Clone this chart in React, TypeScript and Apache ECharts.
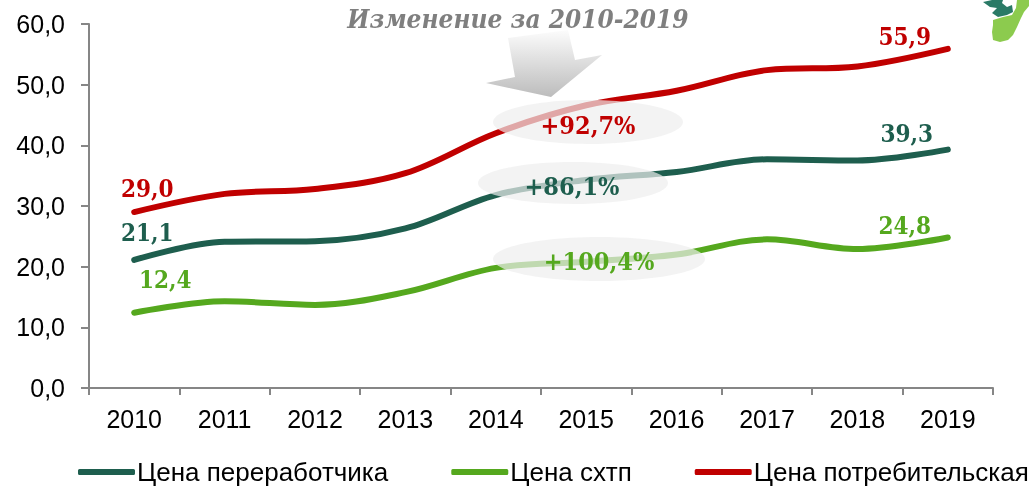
import React, { useEffect, useRef } from "react";
import * as echarts from "echarts";

const years = ["2010", "2011", "2012", "2013", "2014", "2015", "2016", "2017", "2018", "2019"];
const processorPrice = [21.1, 24.1, 24.2, 26.3, 31.8, 34.3, 35.6, 37.7, 37.5, 39.3];
const farmPrice = [12.4, 14.3, 13.7, 15.8, 19.8, 20.8, 22.0, 24.5, 22.9, 24.8];
const consumerPrice = [29.0, 32.0, 32.8, 35.4, 42.0, 46.6, 49.0, 52.4, 53.0, 55.9];
const seriesNames = ["Цена переработчика", "Цена схтп", "Цена потребительская"];
const changeLabels = ["+92,7%", "+86,1%", "+100,4%"];
const titleText = "Изменение за 2010-2019";

const DARK = "#1E5E4E";
const GREEN = "#55A81E";
const RED = "#C00000";
const SERIF = "'DejaVu Serif Condensed', 'DejaVu Serif'";

const fmt = (v: number) => v.toFixed(1).replace(".", ",");

function withEndLabels(values: number[], color: string, firstOff: number[], lastOff: number[]) {
  return values.map((v, i) => {
    if (i === 0 || i === values.length - 1) {
      return {
        value: v,
        label: {
          show: true,
          position: "inside",
          offset: i === 0 ? firstOff : lastOff,
          formatter: (p: any) => fmt(p.value),
          color,
          fontFamily: SERIF,
          fontWeight: "bold",
          fontSize: 24,
        },
      };
    }
    return { value: v };
  });
}

export default function App() {
  const ref = useRef<HTMLDivElement>(null);
  useEffect(() => {
    if (!ref.current) return;
    const chart = echarts.init(ref.current, undefined, { renderer: "svg" });
    const lineSeries = (name: string, data: any[], color: string) => ({
      name,
      type: "line",
      data,
      smooth: 0.35,
      symbol: "circle",
      symbolSize: 3,
      itemStyle: { color },
      lineStyle: { color, width: 6, cap: "round" },
      z: 2,
    });
    const pctStyle = (color: string) => ({
      fill: color,
      font: `bold 25px ${SERIF}`,
      textAlign: "center",
      textVerticalAlign: "middle",
    });
    chart.setOption({
      animation: false,
      grid: { left: 89, right: 36, top: 24, bottom: 99 },
      xAxis: {
        type: "category",
        data: years,
        boundaryGap: true,
        axisLine: { lineStyle: { color: "#868686", width: 2 } },
        axisTick: { show: true, length: 7, lineStyle: { color: "#868686", width: 2 } },
        axisLabel: { color: "#000", fontSize: 25, fontFamily: "Liberation Sans, Arial", margin: 18 },
      },
      yAxis: {
        type: "value",
        min: 0,
        max: 60,
        interval: 10,
        splitLine: { show: false },
        axisLine: { show: true, lineStyle: { color: "#868686", width: 2 } },
        axisTick: { show: true, length: 8, lineStyle: { color: "#868686", width: 2 } },
        axisLabel: {
          color: "#000",
          fontSize: 25,
          fontFamily: "Liberation Sans, Arial",
          margin: 24,
          formatter: (v: number) => fmt(v),
        },
      },
      legend: {
        left: 78,
        top: 459,
        width: 1400,
        padding: 0,
        icon: "roundRect",
        itemWidth: 57,
        itemHeight: 6,
        itemGap: 63,
        textStyle: { color: "#000", fontSize: 26, fontFamily: "Liberation Sans, Arial", padding: [0, 0, 0, -3] },
        data: seriesNames,
      },
      series: [
        lineSeries(seriesNames[0], withEndLabels(processorPrice, DARK, [13, -27], [-41, -16]), DARK),
        lineSeries(seriesNames[1], withEndLabels(farmPrice, GREEN, [31, -33], [-43, -12]), GREEN),
        lineSeries(seriesNames[2], withEndLabels(consumerPrice, RED, [13, -24], [-43, -12]), RED),
      ],
      graphic: [
        {
          type: "text",
          x: 518,
          y: 19,
          z: 100,
          style: {
            text: titleText,
            fill: "#7F7F7F",
            font: `italic bold 26px ${SERIF}`,
            textAlign: "center",
            textVerticalAlign: "middle",
          },
        },
        {
          type: "polygon",
          z: 100,
          shape: {
            points: [
              [508, 38],
              [568, 30],
              [575, 60],
              [602, 55],
              [551, 97],
              [486, 83],
              [515, 77],
            ],
          },
          style: {
            fill: {
              type: "linear",
              x: 0,
              y: 0,
              x2: 0,
              y2: 1,
              colorStops: [
                { offset: 0, color: "#fcfcfc" },
                { offset: 1, color: "#bcbcbc" },
              ],
            },
          },
        },
        { type: "ellipse", z: 100, shape: { cx: 588, cy: 122, rx: 95, ry: 22 }, style: { fill: "rgba(238,238,238,0.7)" } },
        { type: "ellipse", z: 100, shape: { cx: 573, cy: 183, rx: 95, ry: 21 }, style: { fill: "rgba(238,238,238,0.7)" } },
        { type: "ellipse", z: 100, shape: { cx: 599, cy: 259, rx: 106, ry: 22 }, style: { fill: "rgba(238,238,238,0.7)" } },
        { type: "text", z: 101, x: 588, y: 125, style: { text: changeLabels[0], ...pctStyle(RED) } },
        { type: "text", z: 101, x: 572, y: 186, style: { text: changeLabels[1], ...pctStyle(DARK) } },
        { type: "text", z: 101, x: 599, y: 261, style: { text: changeLabels[2], ...pctStyle(GREEN) } },
        {
          type: "polygon",
          z: 100,
          shape: {
            points: [
              [993, 20], [1003, 17], [1012, 15], [1016, 8], [1017, 0], [1029, 0], [1029, 6],
              [1024, 12], [1021, 18], [1017, 27], [1013, 35], [1008, 40], [1000, 42], [993, 40],
              [992, 32], [993, 25],
            ],
          },
          style: { fill: "#8CCB4E" },
        },
        {
          type: "polygon",
          z: 101,
          shape: {
            points: [
              [983, 2], [992, 0], [1003, 0], [1002, 3], [1007, 7], [1012, 5], [1013, 12],
              [1007, 15], [998, 17], [992, 13], [997, 8], [990, 7],
            ],
          },
          style: { fill: "#2A7A66" },
        },
      ],
    });
    return () => chart.dispose();
  }, []);
  return <div ref={ref} style={{ position: "fixed", left: 0, top: 0, width: 1029, height: 487 }} />;
}
